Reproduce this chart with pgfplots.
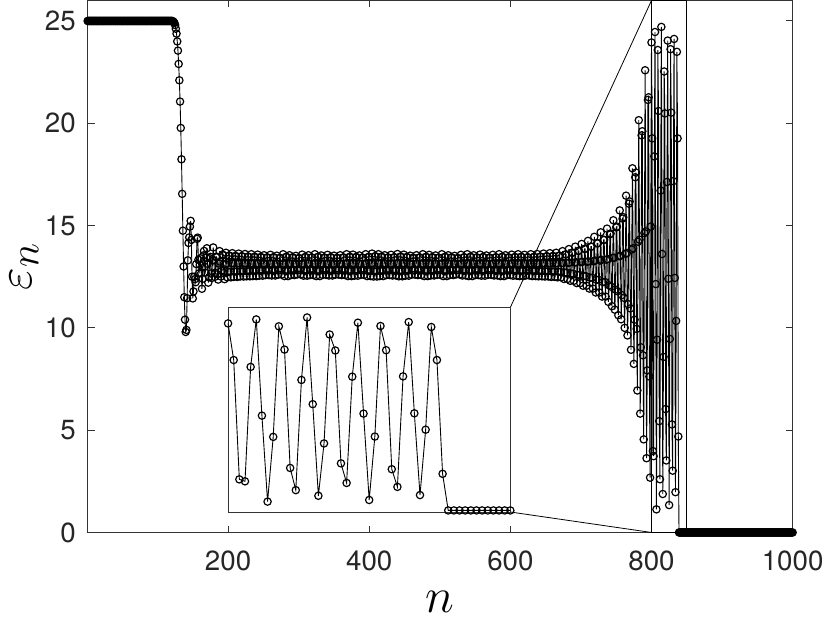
\documentclass[border=0pt]{standalone}
\usepackage{fontspec}
\setmainfont{TeX Gyre Heros}
\usepackage{pgfplots}
\usepackage{pgfplotstable}
\pgfplotsset{compat=1.18}

% eps_n against n
\pgfplotstableread[row sep=\\]{
n e\\
1 25\\ 2 25\\ 3 25\\ 4 25\\ 5 25\\ 6 25\\ 7 25\\ 8 25\\ 9 25\\ 10 25\\
11 25\\ 12 25\\ 13 25\\ 14 25\\ 15 25\\ 16 25\\ 17 25\\ 18 25\\ 19 25\\ 20 25\\
21 25\\ 22 25\\ 23 25\\ 24 25\\ 25 25\\ 26 25\\ 27 25\\ 28 25\\ 29 25\\ 30 25\\
31 25\\ 32 25\\ 33 25\\ 34 25\\ 35 25\\ 36 25\\ 37 25\\ 38 25\\ 39 25\\ 40 25\\
41 25\\ 42 25\\ 43 25\\ 44 25\\ 45 25\\ 46 25\\ 47 25\\ 48 25\\ 49 25\\ 50 25\\
51 25\\ 52 25\\ 53 25\\ 54 25\\ 55 25\\ 56 25\\ 57 25\\ 58 25\\ 59 25\\ 60 25\\
61 25\\ 62 25\\ 63 25\\ 64 25\\ 65 25\\ 66 25\\ 67 25\\ 68 25\\ 69 25\\ 70 25\\
71 25\\ 72 25\\ 73 25\\ 74 25\\ 75 25\\ 76 25\\ 77 25\\ 78 25\\ 79 25\\ 80 25\\
81 25\\ 82 25\\ 83 25\\ 84 25\\ 85 25\\ 86 25\\ 87 25\\ 88 25\\ 89 25\\ 90 25\\
91 25\\ 92 25\\ 93 25\\ 94 25\\ 95 25\\ 96 25\\ 97 25\\ 98 25\\ 99 25\\ 100 25\\
101 25\\ 102 25\\ 103 25\\ 104 25\\ 105 25\\ 106 25\\ 107 25\\ 108 25\\ 109 25\\ 110 25\\
111 25\\ 112 25\\ 113 25\\ 114 25\\ 115 25\\ 116 25\\ 117 25\\ 118 25\\ 119 25\\ 120 25\\
121 25\\ 122 24.98\\ 123 24.95\\ 124 24.9\\ 125 24.8\\ 126 24.62\\ 127 24.38\\ 128 24.0\\ 129 23.55\\ 130 22.9\\
131 22.1\\ 132 21.06\\ 133 19.77\\ 134 18.24\\ 135 16.55\\ 136 14.75\\ 137 13.0\\ 138 11.5\\ 139 10.4\\ 140 9.8\\
141 9.90\\ 142 11.45\\ 143 13.30\\ 144 14.15\\ 145 14.42\\ 146 14.95\\ 147 15.23\\ 148 14.30\\ 149 12.50\\ 150 11.44\\
151 11.78\\ 152 12.50\\ 153 12.38\\ 154 12.23\\ 155 13.12\\ 156 14.35\\ 157 14.41\\ 158 13.33\\ 159 12.67\\ 160 13.08\\
161 13.40\\ 162 12.67\\ 163 11.91\\ 164 12.40\\ 165 13.54\\ 166 13.76\\ 167 12.99\\ 168 12.70\\ 169 13.43\\ 170 13.89\\
171 13.13\\ 172 12.21\\ 173 12.47\\ 174 13.40\\ 175 13.47\\ 176 12.66\\ 177 12.44\\ 178 13.31\\ 179 13.93\\ 180 13.30\\
181 12.49\\ 182 12.70\\ 183 13.48\\ 184 13.45\\ 185 12.62\\ 186 12.36\\ 187 13.15\\ 188 13.75\\ 189 13.23\\ 190 12.51\\
191 12.78\\ 192 13.59\\ 193 13.55\\ 194 12.68\\ 195 12.38\\ 196 13.11\\
197 13.67\\ 198 13.16\\ 199 12.47\\ 200 12.74\\ 201 13.53\\ 202 13.53\\ 203 12.74\\ 204 12.47\\ 205 13.16\\
206 13.65\\ 207 13.15\\ 208 12.49\\ 209 12.75\\ 210 13.51\\ 211 13.51\\ 212 12.75\\ 213 12.49\\ 214 13.15\\
215 13.63\\ 216 13.15\\ 217 12.51\\ 218 12.76\\ 219 13.50\\ 220 13.50\\ 221 12.76\\ 222 12.51\\ 223 13.15\\
224 13.61\\ 225 13.15\\ 226 12.52\\ 227 12.77\\ 228 13.48\\ 229 13.48\\ 230 12.77\\ 231 12.52\\ 232 13.15\\
233 13.60\\ 234 13.14\\ 235 12.53\\ 236 12.78\\ 237 13.47\\ 238 13.47\\ 239 12.78\\ 240 12.53\\ 241 13.14\\
242 13.58\\ 243 13.14\\ 244 12.55\\ 245 12.79\\ 246 13.46\\ 247 13.46\\ 248 12.79\\ 249 12.55\\ 250 13.14\\
251 13.55\\ 252 13.14\\ 253 12.58\\ 254 12.80\\ 255 13.44\\ 256 13.44\\ 257 12.80\\ 258 12.58\\ 259 13.14\\
260 13.57\\ 261 13.14\\ 262 12.56\\ 263 12.79\\ 264 13.45\\ 265 13.45\\ 266 12.79\\ 267 12.56\\ 268 13.14\\
269 13.53\\ 270 13.13\\ 271 12.60\\ 272 12.81\\ 273 13.42\\ 274 13.42\\ 275 12.81\\ 276 12.60\\ 277 13.13\\
278 13.60\\ 279 13.14\\ 280 12.53\\ 281 12.78\\ 282 13.47\\ 283 13.47\\ 284 12.78\\ 285 12.53\\ 286 13.14\\
287 13.55\\ 288 13.14\\ 289 12.58\\ 290 12.80\\ 291 13.44\\ 292 13.44\\ 293 12.80\\ 294 12.58\\ 295 13.14\\
296 13.52\\ 297 13.13\\ 298 12.61\\ 299 12.82\\ 300 13.41\\ 301 13.41\\ 302 12.82\\ 303 12.61\\ 304 13.13\\
305 13.58\\ 306 13.14\\ 307 12.55\\ 308 12.79\\ 309 13.46\\ 310 13.46\\ 311 12.79\\ 312 12.55\\ 313 13.14\\
314 13.55\\ 315 13.14\\ 316 12.58\\ 317 12.80\\ 318 13.44\\ 319 13.44\\ 320 12.80\\ 321 12.58\\ 322 13.14\\
323 13.60\\ 324 13.14\\ 325 12.53\\ 326 12.78\\ 327 13.47\\ 328 13.47\\ 329 12.78\\ 330 12.53\\ 331 13.14\\
332 13.54\\ 333 13.13\\ 334 12.59\\ 335 12.81\\ 336 13.43\\ 337 13.43\\ 338 12.81\\ 339 12.59\\ 340 13.13\\
341 13.57\\ 342 13.14\\ 343 12.56\\ 344 12.79\\ 345 13.45\\ 346 13.45\\ 347 12.79\\ 348 12.56\\ 349 13.14\\
350 13.53\\ 351 13.13\\ 352 12.60\\ 353 12.81\\ 354 13.42\\ 355 13.42\\ 356 12.81\\ 357 12.60\\ 358 13.13\\
359 13.55\\ 360 13.14\\ 361 12.58\\ 362 12.80\\ 363 13.44\\ 364 13.44\\ 365 12.80\\ 366 12.58\\ 367 13.14\\
368 13.60\\ 369 13.14\\ 370 12.53\\ 371 12.78\\ 372 13.47\\ 373 13.47\\ 374 12.78\\ 375 12.53\\ 376 13.14\\
377 13.58\\ 378 13.14\\ 379 12.55\\ 380 12.79\\ 381 13.46\\ 382 13.46\\ 383 12.79\\ 384 12.55\\ 385 13.14\\
386 13.54\\ 387 13.13\\ 388 12.59\\ 389 12.81\\ 390 13.43\\ 391 13.43\\ 392 12.81\\ 393 12.59\\ 394 13.13\\
395 13.60\\ 396 13.14\\ 397 12.53\\ 398 12.78\\ 399 13.47\\ 400 13.47\\ 401 12.78\\ 402 12.53\\ 403 13.14\\
404 13.63\\ 405 13.15\\ 406 12.51\\ 407 12.76\\ 408 13.50\\ 409 13.50\\ 410 12.76\\ 411 12.51\\ 412 13.15\\
413 13.60\\ 414 13.14\\ 415 12.53\\ 416 12.78\\ 417 13.47\\ 418 13.47\\ 419 12.78\\ 420 12.53\\ 421 13.14\\
422 13.55\\ 423 13.14\\ 424 12.58\\ 425 12.80\\ 426 13.44\\ 427 13.44\\ 428 12.80\\ 429 12.58\\ 430 13.14\\
431 13.57\\ 432 13.14\\ 433 12.56\\ 434 12.79\\ 435 13.45\\ 436 13.45\\ 437 12.79\\ 438 12.56\\ 439 13.14\\
440 13.61\\ 441 13.15\\ 442 12.52\\ 443 12.77\\ 444 13.48\\ 445 13.48\\ 446 12.77\\ 447 12.52\\ 448 13.15\\
449 13.58\\ 450 13.14\\ 451 12.55\\ 452 12.79\\ 453 13.46\\ 454 13.46\\ 455 12.79\\ 456 12.55\\ 457 13.14\\
458 13.53\\ 459 13.13\\ 460 12.60\\ 461 12.81\\ 462 13.42\\ 463 13.42\\ 464 12.81\\ 465 12.60\\ 466 13.13\\
467 13.55\\ 468 13.14\\ 469 12.58\\ 470 12.80\\ 471 13.44\\ 472 13.44\\ 473 12.80\\ 474 12.58\\ 475 13.14\\
476 13.60\\ 477 13.14\\ 478 12.53\\ 479 12.78\\ 480 13.47\\ 481 13.47\\ 482 12.78\\ 483 12.53\\ 484 13.14\\
485 13.57\\ 486 13.14\\ 487 12.56\\ 488 12.79\\ 489 13.45\\ 490 13.45\\ 491 12.79\\ 492 12.56\\ 493 13.14\\
494 13.54\\ 495 13.13\\ 496 12.59\\ 497 12.81\\ 498 13.43\\ 499 13.43\\ 500 12.81\\ 501 12.59\\ 502 13.13\\
503 13.60\\ 504 13.14\\ 505 12.53\\ 506 12.78\\ 507 13.47\\ 508 13.47\\ 509 12.78\\ 510 12.53\\ 511 13.14\\
512 13.55\\ 513 13.14\\ 514 12.58\\ 515 12.80\\ 516 13.44\\ 517 13.44\\ 518 12.80\\ 519 12.58\\ 520 13.14\\
521 13.52\\ 522 13.13\\ 523 12.61\\ 524 12.82\\ 525 13.41\\ 526 13.41\\ 527 12.82\\ 528 12.61\\ 529 13.13\\
530 13.57\\ 531 13.14\\ 532 12.56\\ 533 12.79\\ 534 13.45\\ 535 13.45\\ 536 12.79\\ 537 12.56\\ 538 13.14\\
539 13.60\\ 540 13.14\\ 541 12.53\\ 542 12.78\\ 543 13.47\\ 544 13.47\\ 545 12.78\\ 546 12.53\\ 547 13.14\\
548 13.55\\ 549 13.14\\ 550 12.58\\ 551 12.80\\ 552 13.44\\ 553 13.44\\ 554 12.80\\ 555 12.58\\ 556 13.14\\
557 13.58\\ 558 13.14\\ 559 12.55\\ 560 12.79\\ 561 13.46\\ 562 13.46\\ 563 12.79\\ 564 12.55\\ 565 13.14\\
566 13.54\\ 567 13.13\\ 568 12.59\\ 569 12.81\\ 570 13.43\\ 571 13.43\\ 572 12.81\\ 573 12.59\\ 574 13.13\\
575 13.57\\ 576 13.14\\ 577 12.56\\ 578 12.79\\ 579 13.45\\ 580 13.45\\ 581 12.79\\ 582 12.56\\ 583 13.14\\
584 13.60\\ 585 13.14\\ 586 12.53\\ 587 12.78\\ 588 13.47\\ 589 13.47\\ 590 12.78\\ 591 12.53\\ 592 13.14\\
593 13.55\\ 594 13.14\\ 595 12.58\\ 596 12.80\\ 597 13.44\\ 598 13.44\\ 599 12.80\\ 600 12.58\\ 601 13.14\\
602 13.58\\ 603 13.14\\ 604 12.55\\ 605 12.79\\ 606 13.46\\ 607 13.46\\ 608 12.79\\ 609 12.55\\ 610 13.14\\
611 13.60\\ 612 13.14\\ 613 12.53\\ 614 12.78\\ 615 13.47\\ 616 13.47\\ 617 12.78\\ 618 12.53\\ 619 13.14\\
620 13.57\\ 621 13.14\\ 622 12.56\\ 623 12.79\\ 624 13.45\\ 625 13.45\\ 626 12.79\\ 627 12.56\\ 628 13.14\\
629 13.60\\ 630 13.14\\ 631 12.53\\ 632 12.78\\ 633 13.47\\ 634 13.47\\ 635 12.78\\ 636 12.53\\ 637 13.14\\
638 13.61\\ 639 13.15\\ 640 12.52\\ 641 12.77\\ 642 13.48\\ 643 13.48\\ 644 12.77\\ 645 12.52\\ 646 13.15\\
647 13.63\\ 648 13.15\\ 649 12.51\\ 650 12.76\\ 651 13.50\\ 652 13.50\\ 653 12.76\\ 654 12.51\\ 655 13.15\\
656 13.65\\ 657 13.15\\ 658 12.49\\ 659 12.75\\ 660 13.51\\ 661 13.51\\ 662 12.75\\ 663 12.49\\ 664 13.15\\
665 13.67\\ 666 13.16\\ 667 12.47\\ 668 12.74\\ 669 13.53\\ 670 13.53\\ 671 12.74\\ 672 12.47\\ 673 13.16\\
674 13.75\\ 675 13.17\\ 676 12.39\\ 677 12.70\\ 678 13.59\\ 679 13.59\\ 680 12.70\\ 681 12.39\\ 682 13.17\\
683 13.85\\ 684 13.19\\ 685 12.30\\ 686 12.65\\ 687 13.67\\ 688 13.67\\ 689 12.65\\ 690 12.30\\ 691 13.19\\
692 13.97\\ 693 13.21\\ 694 12.19\\ 695 12.59\\ 696 13.76\\ 697 13.76\\ 698 12.59\\ 699 12.19\\ 700 13.21\\
701 14.10\\ 702 13.23\\ 703 12.06\\ 704 12.53\\ 705 13.86\\ 706 13.86\\ 707 12.53\\ 708 12.06\\ 709 13.23\\
710 14.25\\ 711 13.25\\ 712 11.92\\ 713 12.45\\ 714 13.97\\ 715 13.97\\ 716 12.45\\ 717 11.92\\ 718 13.25\\
719 14.45\\ 720 13.29\\ 721 11.73\\ 722 12.35\\ 723 14.13\\ 724 14.13\\ 725 12.35\\ 726 11.73\\ 727 13.29\\
728 14.67\\ 729 13.33\\ 730 11.53\\ 731 12.24\\ 732 14.30\\ 733 14.30\\ 734 12.24\\ 735 11.53\\ 736 13.33\\
737 14.85\\ 738 13.36\\ 739 11.27\\ 740 12.08\\ 741 14.57\\ 742 14.61\\ 743 12.01\\ 744 11.06\\ 745 13.42\\
746 15.26\\ 747 13.43\\ 748 10.89\\ 749 11.87\\ 750 14.91\\ 751 14.95\\ 752 11.79\\ 753 10.62\\ 754 13.50\\
755 15.74\\ 756 13.52\\ 757 10.42\\ 758 11.60\\ 759 15.34\\ 760 15.41\\ 761 11.47\\ 762 10.00\\ 763 13.62\\
764 16.46\\ 765 13.65\\ 766 9.63\\ 767 11.16\\ 768 16.07\\ 769 16.18\\ 770 10.95\\ 771 8.93\\ 772 13.83\\
773 17.80\\ 774 13.89\\ 775 8.24\\ 776 10.40\\ 777 17.36\\ 778 17.59\\ 779 9.95\\ 780 6.94\\ 781 14.21\\
782 20.15\\ 783 14.31\\ 784 5.81\\ 785 9.05\\ 786 19.41\\ 787 19.61\\ 788 8.66\\ 789 4.55\\ 790 14.63\\
791 22.59\\ 792 14.71\\ 793 3.63\\ 794 7.92\\ 795 21.14\\ 796 21.27\\ 797 7.62\\ 798 2.68\\ 799 14.95\\
800 23.95\\ 801 19.26\\ 802 3.98\\ 803 3.73\\ 804 18.38\\ 805 24.46\\ 806 12.14\\ 807 1.13\\ 808 9.42\\ 809 23.58\\
810 20.60\\ 811 5.44\\ 812 2.60\\ 813 16.71\\ 814 24.71\\ 815 13.61\\ 816 1.88\\ 817 8.58\\ 818 22.53\\ 819 20.48\\
820 6.03\\ 821 3.52\\ 822 17.13\\ 823 24.04\\ 824 12.40\\ 825 1.34\\ 826 9.46\\ 827 23.62\\ 828 20.52\\ 829 5.28\\
830 3.02\\ 831 17.17\\ 832 24.12\\ 833 12.44\\ 834 1.97\\ 835 10.34\\ 836 23.49\\ 837 19.26\\ 838 4.69\\ 839 0\\
840 0\\ 841 0\\ 842 0\\ 843 0\\ 844 0\\ 845 0\\ 846 0\\ 847 0\\ 848 0\\ 849 0\\
850 0\\ 851 0\\ 852 0\\ 853 0\\ 854 0\\ 855 0\\ 856 0\\ 857 0\\ 858 0\\ 859 0\\
860 0\\ 861 0\\ 862 0\\ 863 0\\ 864 0\\ 865 0\\ 866 0\\ 867 0\\ 868 0\\ 869 0\\
870 0\\ 871 0\\ 872 0\\ 873 0\\ 874 0\\ 875 0\\ 876 0\\ 877 0\\ 878 0\\ 879 0\\
880 0\\ 881 0\\ 882 0\\ 883 0\\ 884 0\\ 885 0\\ 886 0\\ 887 0\\ 888 0\\ 889 0\\
890 0\\ 891 0\\ 892 0\\ 893 0\\ 894 0\\ 895 0\\ 896 0\\ 897 0\\ 898 0\\ 899 0\\
900 0\\ 901 0\\ 902 0\\ 903 0\\ 904 0\\ 905 0\\ 906 0\\ 907 0\\ 908 0\\ 909 0\\
910 0\\ 911 0\\ 912 0\\ 913 0\\ 914 0\\ 915 0\\ 916 0\\ 917 0\\ 918 0\\ 919 0\\
920 0\\ 921 0\\ 922 0\\ 923 0\\ 924 0\\ 925 0\\ 926 0\\ 927 0\\ 928 0\\ 929 0\\
930 0\\ 931 0\\ 932 0\\ 933 0\\ 934 0\\ 935 0\\ 936 0\\ 937 0\\ 938 0\\ 939 0\\
940 0\\ 941 0\\ 942 0\\ 943 0\\ 944 0\\ 945 0\\ 946 0\\ 947 0\\ 948 0\\ 949 0\\
950 0\\ 951 0\\ 952 0\\ 953 0\\ 954 0\\ 955 0\\ 956 0\\ 957 0\\ 958 0\\ 959 0\\
960 0\\ 961 0\\ 962 0\\ 963 0\\ 964 0\\ 965 0\\ 966 0\\ 967 0\\ 968 0\\ 969 0\\
970 0\\ 971 0\\ 972 0\\ 973 0\\ 974 0\\ 975 0\\ 976 0\\ 977 0\\ 978 0\\ 979 0\\
980 0\\ 981 0\\ 982 0\\ 983 0\\ 984 0\\ 985 0\\ 986 0\\ 987 0\\ 988 0\\ 989 0\\
990 0\\ 991 0\\ 992 0\\ 993 0\\ 994 0\\ 995 0\\ 996 0\\ 997 0\\ 998 0\\ 999 0\\
1000 0\\
}\epsdata

\pgfplotsset{
  epsline/.style={black, line width=0.45pt, mark=o, mark size=1.85pt,
    mark options={solid, line width=0.6pt}},
}

\begin{document}
\begin{tikzpicture}
\begin{axis}[
  scale only axis, width=356.5pt, height=269pt,
  xmin=1, xmax=1000, ymin=0, ymax=26,
  xtick={200,400,600,800,1000}, ytick={0,5,10,15,20,25},
  tick pos=both, tick align=inside, major tick length=3.5pt,
  axis line style={black!80, line width=0.5pt},
  every tick/.style={black!80, line width=0.5pt},
  tick label style={font=\fontsize{14}{16}\selectfont, text=black!85},
  /pgf/number format/assume math mode=true,
  /pgf/number format/1000 sep={},
  xticklabel style={yshift=-6pt},
  yticklabel style={xshift=-2.5pt},
  xlabel={$n$}, ylabel={$\varepsilon_n$},
  xlabel style={at={(axis description cs:0.5,-0.15)}, anchor=base,
    inner sep=3.5pt, font=\fontsize{24.88}{28}\selectfont},
  ylabel style={at={(axis description cs:-0.09,0.5)}, anchor=center,
    inner sep=5pt, font=\fontsize{24.88}{28}\selectfont},
  clip=false,
]
\addplot[epsline] table[x=n, y=e] {\epsdata};
\draw[black, line width=0.5pt] (axis cs:800,0) rectangle (axis cs:850,26);
\draw[black, line width=0.4pt] (axis cs:600,11) -- (axis cs:800,26);
\draw[black, line width=0.4pt] (axis cs:600,1) -- (axis cs:800,0);
\coordinate (insw) at (axis cs:200,1);
\end{axis}

% zoom of 800..850
\begin{axis}[
  at={(insw)}, anchor=south west,
  scale only axis, width=142.74pt, height=103.46pt,
  xmin=800, xmax=850, ymin=-0.2, ymax=26,
  ticks=none,
  axis line style={black!80, line width=0.4pt},
  axis background/.style={fill=white},
  clip=false,
]
\addplot[epsline, restrict x to domain=800:850] table[x=n, y=e] {\epsdata};
\end{axis}
\end{tikzpicture}
\end{document}
